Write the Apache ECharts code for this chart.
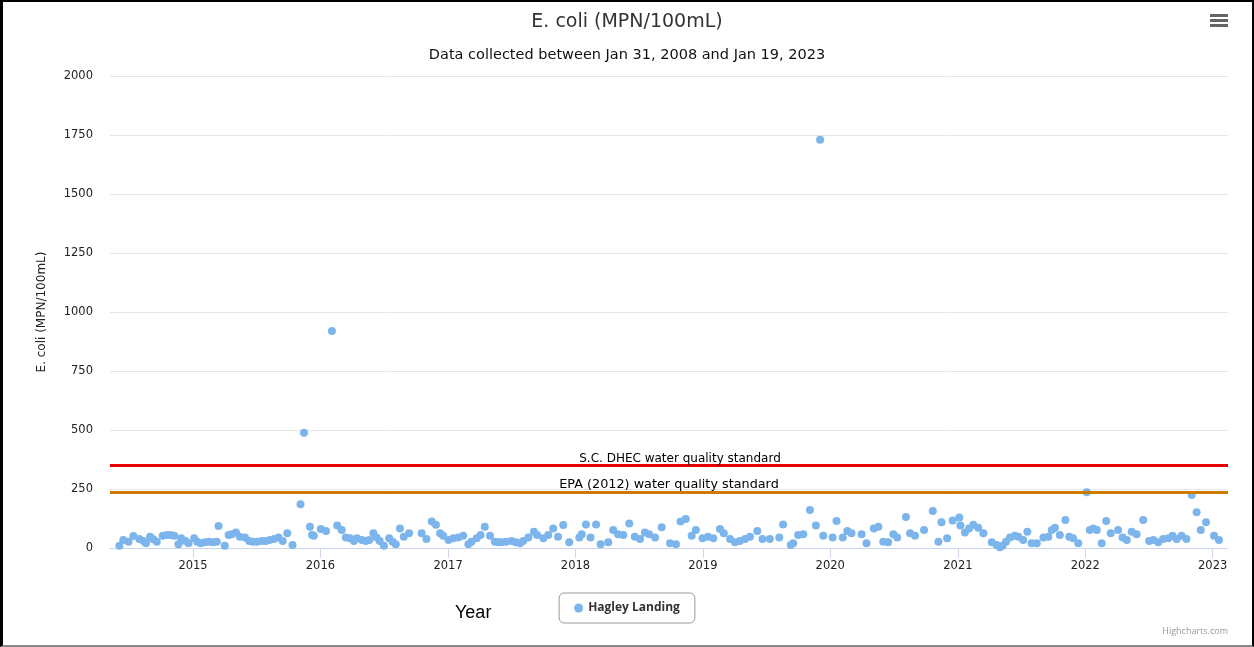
<!DOCTYPE html>
<html>
<head>
<meta charset="utf-8">
<script src="https://cdn.jsdelivr.net/npm/echarts@6/dist/echarts.min.js"></script>
<style>
  html, body { margin: 0; padding: 0; background: #fff; }
  #wrap { position: relative; width: 1254px; height: 647px; }
  #chart { position: absolute; left: 0; top: 0; width: 1254px; height: 647px; }
  #frame { position: absolute; left: 0; top: 0; width: 1254px; height: 647px; box-sizing: border-box;
           border-top: 2px solid #000; border-left: 3px solid #000; border-right: 2px solid #000; border-bottom: 2px solid #888; pointer-events: none; }
</style>
</head>
<body>
<div id="wrap"><div id="chart"></div><div id="frame"></div></div>
<script>
// ---- Data ----
const chartTitle = 'E. coli (MPN/100mL)';
const chartSubtitle = 'Data collected between Jan 31, 2008 and Jan 19, 2023';
const seriesName = 'Hagley Landing';
const yAxisTitle = 'E. coli (MPN/100mL)';
const xAxisTitle = 'Year';
const yearTicks = [2015, 2016, 2017, 2018, 2019, 2020, 2021, 2022, 2023];
const xRange = ['2014-05-08', '2023-02-14'];
const standardValues = [349, 235];
const standardLabels = ['S.C. DHEC water quality standard', 'EPA (2012) water quality standard'];

const sampleDates = [
 '2014-06-04','2014-06-15','2014-06-30','2014-07-14','2014-07-31','2014-08-12','2014-08-19','2014-08-31','2014-09-09','2014-09-19',
 '2014-10-06','2014-10-18','2014-10-29','2014-11-08','2014-11-20','2014-11-28','2014-12-10','2014-12-19','2015-01-04','2015-01-13',
 '2015-01-23','2015-02-04','2015-02-16','2015-02-28','2015-03-10','2015-03-15','2015-04-02','2015-04-13','2015-04-22','2015-05-04',
 '2015-05-15','2015-05-30','2015-06-11','2015-06-21','2015-07-04','2015-07-17','2015-07-29','2015-08-09','2015-08-21','2015-09-03',
 '2015-09-15','2015-09-28','2015-10-13','2015-11-05','2015-11-15','2015-12-02','2015-12-08','2015-12-13','2016-01-02','2016-01-17',
 '2016-02-03','2016-02-18','2016-03-02','2016-03-14','2016-03-26','2016-04-06','2016-04-15','2016-04-29','2016-05-10','2016-05-20',
 '2016-06-01','2016-06-10','2016-06-19','2016-07-01','2016-07-16','2016-07-26','2016-08-04','2016-08-16','2016-08-27','2016-09-11',
 '2016-10-17','2016-10-31','2016-11-15','2016-11-27','2016-12-09','2016-12-18','2017-01-02','2017-01-16','2017-01-30','2017-02-13',
 '2017-02-28','2017-03-09','2017-03-24','2017-04-04','2017-04-16','2017-05-01','2017-05-15','2017-05-25','2017-06-03','2017-06-16',
 '2017-07-02','2017-07-14','2017-07-26','2017-08-04','2017-08-19','2017-09-04','2017-09-13','2017-10-01','2017-10-15','2017-10-29',
 '2017-11-12','2017-11-27','2017-12-14','2018-01-12','2018-01-19','2018-01-31','2018-02-13','2018-03-01','2018-03-14','2018-04-05',
 '2018-04-19','2018-05-03','2018-05-18','2018-06-04','2018-06-20','2018-07-05','2018-07-19','2018-07-31','2018-08-17','2018-09-05',
 '2018-09-29','2018-10-16','2018-10-29','2018-11-13','2018-11-30','2018-12-12','2018-12-31','2019-01-16','2019-01-31','2019-02-19',
 '2019-03-02','2019-03-20','2019-04-03','2019-04-17','2019-05-02','2019-05-16','2019-06-06','2019-06-21','2019-07-12','2019-08-08',
 '2019-08-19','2019-09-10','2019-09-17','2019-10-01','2019-10-16','2019-11-04','2019-11-21','2019-12-03','2019-12-12','2020-01-08',
 '2020-01-19','2020-02-06','2020-02-19','2020-03-02','2020-03-31','2020-04-14','2020-05-05','2020-05-18','2020-06-01','2020-06-15',
 '2020-06-30','2020-07-11','2020-08-05','2020-08-17','2020-08-31','2020-09-26','2020-10-21','2020-11-06','2020-11-15','2020-12-01',
 '2020-12-17','2021-01-05','2021-01-08','2021-01-21','2021-02-02','2021-02-14','2021-02-28','2021-03-15','2021-04-08','2021-04-22',
 '2021-05-01','2021-05-09','2021-05-19','2021-05-30','2021-06-13','2021-06-23','2021-07-07','2021-07-19','2021-07-31','2021-08-15',
 '2021-09-03','2021-09-17','2021-09-27','2021-10-06','2021-10-20','2021-11-05','2021-11-16','2021-11-27','2021-12-12','2022-01-05',
 '2022-01-14','2022-01-24','2022-02-03','2022-02-17','2022-03-02','2022-03-15','2022-04-05','2022-04-18','2022-04-30','2022-05-14',
 '2022-05-28','2022-06-16','2022-07-03','2022-07-15','2022-07-29','2022-08-12','2022-08-27','2022-09-08','2022-09-20','2022-10-04',
 '2022-10-18','2022-11-02','2022-11-16','2022-11-28','2022-12-13','2023-01-05','2023-01-19'
];
const ecoliValues = [
 10,34,27,51,38,30,20,48,37,27,
 52,55,55,52,16,41,30,20,41,27,
 20,24,27,24,27,93,10,55,58,66,
 48,44,30,27,27,30,30,34,38,44,
 30,62,13,185,488,90,55,52,80,72,
 920,95,76,44,41,30,41,34,30,34,
 62,44,30,10,41,27,16,83,48,62,
 62,38,112,98,62,52,34,41,44,52,
 16,27,41,55,90,52,27,24,24,27,
 30,24,20,30,44,69,55,41,55,83,
 48,97,24,44,58,100,44,100,16,24,
 76,58,55,104,48,38,66,58,44,88,
 20,16,112,123,52,76,41,48,41,80,
 62,38,24,30,38,48,72,38,38,44,
 100,13,20,55,58,161,95,1730,52,44,
 114,44,72,62,58,20,83,90,27,24,
 58,44,131,62,52,76,157,27,109,41,
 117,129,95,66,83,98,86,62,24,13,
 3,10,27,44,52,48,34,69,20,20,
 44,48,76,86,55,119,48,41,20,236,
 76,83,76,20,114,62,76,44,34,69,
 58,119,30,34,24,38,41,52,38,52,
 38,225,151,76,109,52,34
];

// ---- Build ----
const ts = s => Date.parse(s);
const points = sampleDates.map((d, i) => [ts(d), ecoliValues[i]]);
const yearStamps = yearTicks.map(y => Date.UTC(y, 0, 1));
const FONT = '"DejaVu Sans", Verdana, sans-serif';
const FONT2 = '"Open Sans", "Noto Sans", sans-serif';
const lineColors = ['#e60000', '#cc7a00'];
const labelSizes = [12, 12.8];
const labelOffsets = [[11, 0], [0, 0]];

const chart = echarts.init(document.getElementById('chart'), null, { renderer: 'canvas' });
chart.setOption({
  animation: false,
  backgroundColor: '#fff',
  textStyle: { fontFamily: FONT },
  title: [
    { text: chartTitle, left: 'center', top: 8, textStyle: { fontSize: 19, fontWeight: 'normal', color: '#333', fontFamily: FONT } },
    { text: chartSubtitle, left: 'center', top: 43, textStyle: { fontSize: 14.5, fontWeight: 'normal', color: '#111', fontFamily: FONT } }
  ],
  grid: { left: 110, right: 26, top: 76, bottom: 99, containLabel: false },
  legend: {
    data: [seriesName], left: 'center', top: 593, icon: 'circle', itemWidth: 9, itemHeight: 9, itemGap: 5,
    borderColor: '#999', borderWidth: 1, borderRadius: 5, padding: [9, 15],
    textStyle: { fontSize: 12, fontWeight: 'bold', color: '#333', fontFamily: FONT2 }
  },
  xAxis: {
    type: 'value', min: ts(xRange[0]), max: ts(xRange[1]),
    axisLine: { show: true, lineStyle: { color: '#ccd6eb' } },
    axisTick: { show: true, length: 10, customValues: yearStamps, lineStyle: { color: '#ccd6eb' } },
    axisLabel: { customValues: yearStamps, formatter: v => String(new Date(v).getUTCFullYear()), color: '#222', fontSize: 11.5, margin: 12, fontFamily: FONT },
    splitLine: { show: false }
  },
  yAxis: {
    type: 'value', min: 0, max: 2000, interval: 250,
    name: yAxisTitle, nameLocation: 'middle', nameGap: 62, nameRotate: 90,
    nameTextStyle: { fontSize: 12, color: '#222', fontFamily: FONT },
    axisLine: { show: false }, axisTick: { show: false },
    axisLabel: { color: '#222', fontSize: 11.5, margin: 17, formatter: v => String(v), fontFamily: FONT },
    splitLine: { lineStyle: { color: '#e6e6e6', width: 1 } }
  },
  series: [{
    name: seriesName, type: 'scatter', data: points, symbol: 'circle', symbolSize: 8,
    itemStyle: { color: '#7cb5ec', opacity: 1 },
    markLine: {
      silent: true, symbol: 'none', animation: false,
      data: standardValues.map((v, i) => ({
        yAxis: v,
        lineStyle: { color: lineColors[i], width: 3, type: 'solid' },
        label: { show: true, formatter: standardLabels[i], position: 'insideMiddleTop', distance: 1, offset: labelOffsets[i], color: '#000', fontSize: labelSizes[i], fontFamily: FONT }
      }))
    },
    z: 3
  }],
  graphic: [
    { type: 'text', left: 455, top: 604, style: { text: xAxisTitle, fontSize: 18, fontFamily: '"Liberation Sans", Arial, sans-serif', fill: '#000' } },
    { type: 'text', right: 26, top: 627, style: { text: 'Highcharts.com', fontSize: 9, fontFamily: FONT2, fill: '#999' } },
    { type: 'rect', left: 1210, top: 14, shape: { width: 18, height: 3 }, style: { fill: '#666' } },
    { type: 'rect', left: 1210, top: 19, shape: { width: 18, height: 3 }, style: { fill: '#666' } },
    { type: 'rect', left: 1210, top: 24, shape: { width: 18, height: 3 }, style: { fill: '#666' } }
  ]
});
</script>
</body>
</html>
